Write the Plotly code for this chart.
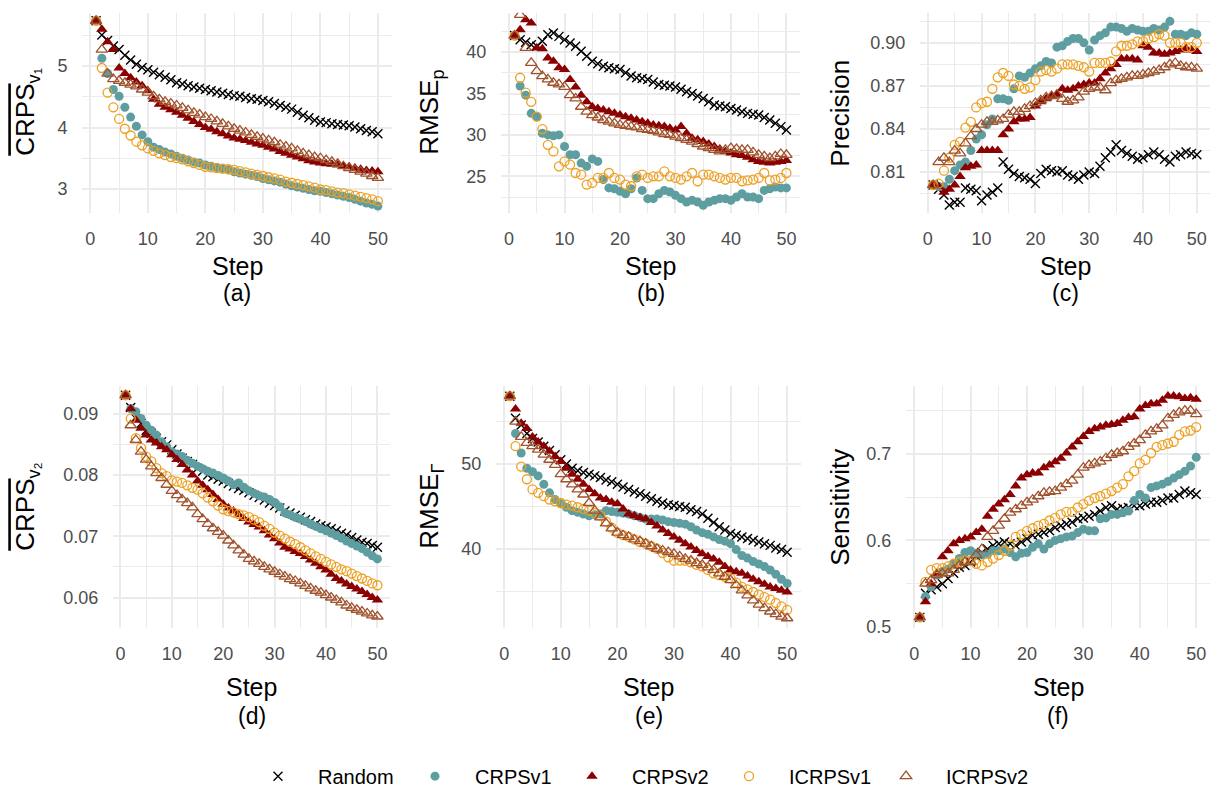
import plotly.graph_objects as go

steps = list(range(1, 51))
series_names = ["Random", "CRPSv1", "CRPSv2", "ICRPSv1", "ICRPSv2"]

# ---------------- panel (a): mean CRPS_v1 ----------------
a_random = [5.74, 5.51, 5.42, 5.33, 5.27, 5.18, 5.10, 5.03, 4.98, 4.94, 4.90, 4.86, 4.82, 4.78, 4.73, 4.71, 4.68, 4.66, 4.64, 4.62,
            4.60, 4.58, 4.56, 4.54, 4.52, 4.51, 4.49, 4.47, 4.46, 4.44, 4.42, 4.39, 4.36, 4.33, 4.30, 4.25, 4.20, 4.16, 4.12, 4.09,
            4.08, 4.06, 4.05, 4.04, 4.03, 4.01, 3.98, 3.95, 3.93, 3.90]
a_crpsv1 = [5.74, 5.13, 4.88, 4.62, 4.51, 4.33, 4.17, 4.02, 3.88, 3.77, 3.68, 3.64, 3.60, 3.57, 3.53, 3.50, 3.47, 3.44, 3.42, 3.39,
            3.37, 3.35, 3.33, 3.31, 3.28, 3.26, 3.24, 3.22, 3.20, 3.17, 3.15, 3.13, 3.11, 3.08, 3.05, 3.03, 3.01, 2.99, 2.97, 2.96,
            2.94, 2.92, 2.90, 2.88, 2.86, 2.83, 2.80, 2.77, 2.75, 2.72]
a_crpsv2 = [5.74, 5.60, 5.40, 5.27, 4.97, 4.88, 4.81, 4.74, 4.68, 4.60, 4.46, 4.38, 4.33, 4.29, 4.25, 4.20, 4.15, 4.10, 4.05, 4.00,
            3.97, 3.93, 3.90, 3.86, 3.83, 3.81, 3.79, 3.76, 3.73, 3.71, 3.68, 3.65, 3.61, 3.58, 3.55, 3.52, 3.49, 3.46, 3.44, 3.42,
            3.41, 3.40, 3.39, 3.37, 3.36, 3.34, 3.32, 3.30, 3.29, 3.28]
a_icrpsv1 = [5.74, 4.97, 4.57, 4.33, 4.14, 3.98, 3.87, 3.77, 3.71, 3.66, 3.62, 3.58, 3.55, 3.52, 3.50, 3.48, 3.45, 3.42, 3.39, 3.36,
             3.35, 3.34, 3.33, 3.32, 3.31, 3.29, 3.27, 3.25, 3.23, 3.21, 3.19, 3.17, 3.15, 3.12, 3.10, 3.08, 3.06, 3.04, 3.02, 2.99,
             2.98, 2.96, 2.94, 2.93, 2.91, 2.89, 2.87, 2.85, 2.83, 2.80]
a_icrpsv2 = [5.74, 5.27, 4.88, 4.79, 4.76, 4.73, 4.70, 4.67, 4.62, 4.57, 4.51, 4.46, 4.42, 4.39, 4.36, 4.32, 4.28, 4.24, 4.21, 4.17,
             4.14, 4.10, 4.06, 4.02, 3.98, 3.95, 3.92, 3.88, 3.85, 3.82, 3.79, 3.76, 3.72, 3.69, 3.66, 3.62, 3.58, 3.55, 3.52, 3.50,
             3.47, 3.44, 3.41, 3.37, 3.34, 3.31, 3.28, 3.25, 3.21, 3.18]

# ---------------- panel (b): RMSE_p ----------------
b_random = [42.0, 41.5, 41.2, 40.9, 40.7, 41.3, 42.1, 42.3, 41.9, 41.5, 41.1, 40.7, 40.1, 39.5, 38.9, 38.6, 38.3, 38.1, 38.0, 37.9,
            37.5, 37.1, 36.9, 36.8, 36.7, 36.4, 36.1, 36.0, 35.9, 35.8, 35.5, 35.2, 35.0, 34.7, 34.4, 34.0, 33.6, 33.5, 33.4, 33.2,
            33.0, 32.8, 32.6, 32.5, 32.4, 32.1, 31.8, 31.4, 31.0, 30.6]
b_crpsv1 = [42.0, 35.9, 34.8, 32.6, 32.2, 30.2, 30.0, 29.9, 30.0, 28.6, 27.6, 27.6, 26.6, 26.2, 27.1, 26.8, 24.6, 23.6, 23.5, 23.2,
            22.9, 23.5, 24.8, 23.3, 22.3, 22.3, 22.9, 23.3, 23.1, 22.7, 22.3, 21.9, 22.1, 21.9, 21.5, 21.9, 22.1, 22.3, 22.3, 22.1,
            22.5, 22.9, 22.5, 22.5, 22.3, 23.3, 23.5, 23.7, 23.6, 23.6]
b_crpsv2 = [42.0, 42.7, 43.9, 43.5, 40.5, 40.4, 39.3, 38.9, 38.1, 37.9, 36.7, 35.8, 34.8, 34.0, 33.4, 33.2, 33.0, 32.8, 32.6, 32.4,
            32.2, 32.0, 31.8, 31.6, 31.4, 31.2, 31.1, 31.0, 30.8, 30.6, 31.0, 30.2, 29.6, 29.4, 29.2, 28.9, 28.6, 28.3, 28.0, 27.8,
            27.6, 27.5, 27.3, 27.0, 26.8, 26.7, 26.6, 26.7, 26.8, 26.9]
b_icrpsv1 = [42.0, 36.9, 35.1, 34.0, 32.2, 30.7, 28.8, 28.0, 26.2, 26.8, 26.4, 25.4, 25.2, 24.0, 24.2, 24.8, 24.8, 25.4, 24.8, 24.6,
             24.0, 23.8, 25.0, 25.2, 24.8, 25.0, 25.0, 25.6, 25.0, 24.8, 24.6, 25.0, 25.4, 24.4, 25.2, 25.2, 25.0, 24.8, 24.6, 24.8,
             24.8, 24.4, 24.5, 24.6, 24.8, 25.4, 24.5, 24.6, 24.8, 25.4]
b_icrpsv2 = [42.0, 44.5, 40.5, 38.7, 37.7, 37.1, 36.7, 36.3, 36.1, 35.8, 34.8, 34.4, 33.4, 32.8, 32.4, 32.1, 31.8, 31.6, 31.4, 31.2,
             31.1, 31.0, 30.9, 30.7, 30.6, 30.5, 30.3, 30.1, 30.0, 29.8, 29.6, 29.4, 29.2, 28.9, 28.6, 28.4, 28.2, 28.0, 28.2, 28.4,
             28.3, 28.2, 28.2, 27.9, 27.6, 27.4, 27.2, 27.4, 27.7, 27.6]

# ---------------- panel (c): Precision ----------------
c_random = [0.801, 0.798, 0.794, 0.787, 0.789, 0.789, 0.799, 0.798, 0.797, 0.790, 0.794, 0.796, 0.799, 0.817, 0.812, 0.809, 0.807,
            0.806, 0.805, 0.802, 0.809, 0.812, 0.811, 0.810, 0.811, 0.808, 0.807, 0.805, 0.808, 0.810, 0.809, 0.814, 0.820, 0.824,
            0.829, 0.825, 0.823, 0.821, 0.819, 0.820, 0.822, 0.824, 0.822, 0.819, 0.817, 0.821, 0.822, 0.824, 0.823, 0.822]
c_crpsv1 = [0.801, 0.800, 0.800, 0.805, 0.811, 0.815, 0.817, 0.825, 0.833, 0.836, 0.843, 0.847, 0.861, 0.861, 0.860, 0.868, 0.877,
            0.876, 0.879, 0.882, 0.884, 0.887, 0.886, 0.897, 0.898, 0.901, 0.903, 0.903, 0.900, 0.895, 0.902, 0.905, 0.907, 0.911,
            0.911, 0.910, 0.908, 0.910, 0.909, 0.908, 0.908, 0.910, 0.909, 0.911, 0.915, 0.906, 0.906, 0.905, 0.907, 0.906]
c_crpsv2 = [0.801, 0.800, 0.796, 0.798, 0.801, 0.807, 0.813, 0.814, 0.815, 0.825, 0.825, 0.825, 0.825, 0.836, 0.840, 0.845, 0.847,
            0.847, 0.848, 0.856, 0.859, 0.861, 0.863, 0.864, 0.868, 0.867, 0.868, 0.870, 0.871, 0.872, 0.872, 0.875, 0.879, 0.882,
            0.885, 0.889, 0.889, 0.889, 0.888, 0.898, 0.897, 0.893, 0.893, 0.892, 0.893, 0.894, 0.895, 0.896, 0.895, 0.894]
c_icrpsv1 = [0.801, 0.802, 0.811, 0.820, 0.829, 0.831, 0.841, 0.845, 0.855, 0.858, 0.859, 0.868, 0.876, 0.879, 0.877, 0.871, 0.870,
             0.868, 0.869, 0.874, 0.880, 0.881, 0.880, 0.882, 0.885, 0.885, 0.885, 0.884, 0.883, 0.880, 0.886, 0.886, 0.886, 0.887,
             0.894, 0.898, 0.898, 0.899, 0.901, 0.901, 0.903, 0.904, 0.906, 0.905, 0.900, 0.900, 0.900, 0.897, 0.897, 0.900]
c_icrpsv2 = [0.801, 0.817, 0.820, 0.817, 0.825, 0.823, 0.830, 0.835, 0.840, 0.843, 0.845, 0.845, 0.846, 0.847, 0.850, 0.852, 0.852,
             0.854, 0.856, 0.858, 0.860, 0.862, 0.863, 0.864, 0.861, 0.859, 0.860, 0.862, 0.866, 0.868, 0.869, 0.869, 0.867, 0.872,
             0.874, 0.875, 0.876, 0.877, 0.877, 0.878, 0.879, 0.880, 0.881, 0.883, 0.885, 0.886, 0.884, 0.883, 0.883, 0.882]

# ---------------- panel (d): mean CRPS_v2 ----------------
d_random = [0.0930, 0.0910, 0.0892, 0.0884, 0.0873, 0.0868, 0.0860, 0.0854, 0.0849, 0.0841, 0.0834, 0.0827, 0.0822, 0.0817, 0.0811,
            0.0806, 0.0800, 0.0797, 0.0793, 0.0790, 0.0786, 0.0782, 0.0778, 0.0775, 0.0771, 0.0767, 0.0763, 0.0759, 0.0754, 0.0750,
            0.0746, 0.0741, 0.0738, 0.0734, 0.0731, 0.0727, 0.0724, 0.0720, 0.0717, 0.0715, 0.0712, 0.0709, 0.0705, 0.0702, 0.0698,
            0.0694, 0.0690, 0.0688, 0.0685, 0.0682]
d_crpsv1 = [0.0930, 0.0908, 0.0903, 0.0892, 0.0881, 0.0873, 0.0865, 0.0854, 0.0846, 0.0838, 0.0834, 0.0830, 0.0824, 0.0819, 0.0814,
            0.0810, 0.0806, 0.0803, 0.0799, 0.0795, 0.0790, 0.0784, 0.0787, 0.0780, 0.0774, 0.0770, 0.0766, 0.0764, 0.0760, 0.0755,
            0.0748, 0.0738, 0.0735, 0.0731, 0.0728, 0.0724, 0.0720, 0.0716, 0.0712, 0.0709, 0.0705, 0.0701, 0.0697, 0.0692, 0.0688,
            0.0684, 0.0680, 0.0674, 0.0668, 0.0663]
d_crpsv2 = [0.0930, 0.0908, 0.0889, 0.0876, 0.0865, 0.0857, 0.0852, 0.0846, 0.0841, 0.0833, 0.0825, 0.0817, 0.0808, 0.0800, 0.0790,
            0.0783, 0.0776, 0.0768, 0.0760, 0.0752, 0.0746, 0.0741, 0.0735, 0.0729, 0.0723, 0.0719, 0.0715, 0.0709, 0.0702, 0.0696,
            0.0689, 0.0682, 0.0679, 0.0675, 0.0672, 0.0667, 0.0661, 0.0656, 0.0650, 0.0645, 0.0638, 0.0631, 0.0627, 0.0622, 0.0618,
            0.0614, 0.0610, 0.0605, 0.0600, 0.0596]
d_icrpsv1 = [0.0930, 0.0892, 0.0860, 0.0844, 0.0830, 0.0822, 0.0811, 0.0803, 0.0798, 0.0791, 0.0789, 0.0787, 0.0783, 0.0779, 0.0776,
             0.0770, 0.0763, 0.0757, 0.0750, 0.0744, 0.0741, 0.0739, 0.0736, 0.0734, 0.0731, 0.0727, 0.0723, 0.0717, 0.0712, 0.0706,
             0.0701, 0.0696, 0.0691, 0.0687, 0.0682, 0.0677, 0.0672, 0.0667, 0.0663, 0.0658, 0.0654, 0.0650, 0.0646, 0.0643, 0.0639,
             0.0635, 0.0631, 0.0627, 0.0623, 0.0620]
d_icrpsv2 = [0.0930, 0.0881, 0.0857, 0.0838, 0.0825, 0.0814, 0.0803, 0.0795, 0.0784, 0.0774, 0.0767, 0.0760, 0.0754, 0.0747, 0.0736,
             0.0728, 0.0720, 0.0713, 0.0707, 0.0701, 0.0693, 0.0685, 0.0677, 0.0670, 0.0663, 0.0659, 0.0655, 0.0650, 0.0646, 0.0642,
             0.0638, 0.0634, 0.0630, 0.0627, 0.0623, 0.0619, 0.0615, 0.0611, 0.0608, 0.0604, 0.0600, 0.0596, 0.0592, 0.0587, 0.0583,
             0.0580, 0.0577, 0.0574, 0.0571, 0.0569]

# ---------------- panel (e): RMSE_Gamma ----------------
e_random = [58.0, 55.4, 54.6, 53.6, 53.0, 52.6, 52.1, 51.6, 51.1, 50.5, 50.0, 49.5, 49.2, 49.0, 48.8, 48.6, 48.4, 48.1, 47.9, 47.6,
            47.3, 47.0, 46.7, 46.5, 46.2, 45.9, 45.6, 45.4, 45.2, 45.1, 45.0, 44.9, 44.6, 44.4, 44.1, 43.6, 43.1, 42.6, 42.2, 41.8,
            41.6, 41.4, 41.2, 41.0, 40.8, 40.6, 40.4, 40.1, 39.9, 39.6]
e_crpsv1 = [58.0, 53.6, 51.3, 49.5, 49.1, 48.6, 47.6, 46.6, 45.8, 45.3, 44.9, 44.5, 44.3, 44.1, 43.9, 44.0, 44.1, 44.5, 44.4, 44.3,
            44.2, 44.1, 43.9, 43.7, 43.5, 43.5, 43.5, 43.4, 43.2, 43.1, 43.0, 42.9, 42.6, 42.2, 41.9, 41.7, 41.4, 41.1, 40.9, 40.6,
            39.9, 39.2, 38.9, 38.5, 38.2, 37.9, 37.5, 37.0, 36.4, 35.9]
e_crpsv2 = [58.0, 56.5, 54.8, 54.2, 53.2, 52.6, 52.1, 51.5, 50.9, 50.3, 49.5, 48.8, 48.2, 47.6, 47.0, 46.5, 46.0, 45.8, 45.5, 45.3,
            44.7, 44.1, 43.9, 43.7, 43.5, 43.1, 42.7, 42.2, 41.8, 41.4, 41.0, 40.6, 40.2, 39.8, 39.4, 39.1, 38.8, 38.4, 37.9, 37.5,
            37.3, 37.1, 36.8, 36.4, 36.1, 35.8, 35.5, 35.3, 35.1, 34.9]
e_icrpsv1 = [58.0, 52.1, 49.7, 48.2, 47.0, 46.6, 46.2, 45.8, 45.6, 45.4, 45.2, 45.1, 44.9, 44.7, 44.5, 44.2, 43.9, 43.2, 42.5, 41.9,
             41.6, 41.4, 41.1, 40.8, 40.6, 40.3, 40.0, 39.5, 39.0, 38.6, 38.6, 38.6, 38.4, 38.1, 37.9, 37.5, 37.1, 36.9, 36.7, 36.5,
             36.0, 35.5, 35.2, 34.9, 34.6, 34.3, 34.0, 33.6, 33.2, 32.8]
e_icrpsv2 = [58.0, 55.0, 53.2, 52.5, 52.1, 51.7, 51.1, 50.5, 49.9, 48.8, 48.2, 47.6, 47.0, 46.4, 45.4, 44.5, 43.7, 43.0, 42.4, 41.9,
             41.6, 41.4, 41.1, 40.9, 40.6, 40.3, 40.0, 39.8, 39.6, 39.4, 39.1, 38.8, 38.6, 38.3, 38.1, 37.8, 37.5, 37.1, 36.7, 36.3,
             35.7, 35.1, 34.5, 33.9, 33.4, 33.0, 32.6, 32.3, 32.0, 31.8]

# ---------------- panel (f): Sensitivity ----------------
f_random = [0.511, 0.539, 0.543, 0.546, 0.550, 0.556, 0.562, 0.569, 0.571, 0.575, 0.581, 0.586, 0.590, 0.594, 0.596, 0.598, 0.596,
            0.594, 0.598, 0.602, 0.606, 0.607, 0.609, 0.611, 0.615, 0.617, 0.619, 0.621, 0.625, 0.626, 0.628, 0.630, 0.634, 0.638,
            0.640, 0.636, 0.637, 0.638, 0.640, 0.640, 0.642, 0.644, 0.644, 0.646, 0.649, 0.649, 0.653, 0.657, 0.655, 0.653]
f_crpsv1 = [0.511, 0.535, 0.546, 0.560, 0.564, 0.567, 0.573, 0.579, 0.586, 0.588, 0.585, 0.583, 0.584, 0.588, 0.588, 0.590, 0.586,
            0.581, 0.585, 0.586, 0.592, 0.596, 0.590, 0.596, 0.600, 0.602, 0.604, 0.605, 0.609, 0.613, 0.611, 0.611, 0.625, 0.626,
            0.630, 0.630, 0.632, 0.634, 0.646, 0.653, 0.649, 0.661, 0.663, 0.665, 0.668, 0.672, 0.676, 0.680, 0.686, 0.696]
f_crpsv2 = [0.511, 0.529, 0.550, 0.562, 0.581, 0.588, 0.596, 0.600, 0.602, 0.604, 0.609, 0.613, 0.628, 0.636, 0.642, 0.647, 0.653,
            0.663, 0.672, 0.676, 0.678, 0.678, 0.684, 0.687, 0.691, 0.695, 0.701, 0.708, 0.714, 0.720, 0.726, 0.729, 0.731, 0.733,
            0.734, 0.735, 0.739, 0.742, 0.743, 0.752, 0.756, 0.758, 0.758, 0.762, 0.767, 0.767, 0.766, 0.764, 0.765, 0.763]
f_icrpsv1 = [0.511, 0.552, 0.566, 0.568, 0.568, 0.570, 0.573, 0.575, 0.577, 0.577, 0.573, 0.571, 0.575, 0.579, 0.583, 0.588, 0.594,
             0.604, 0.607, 0.611, 0.614, 0.617, 0.619, 0.623, 0.626, 0.630, 0.633, 0.633, 0.638, 0.642, 0.646, 0.649, 0.651, 0.654,
             0.657, 0.661, 0.665, 0.674, 0.680, 0.689, 0.693, 0.701, 0.708, 0.710, 0.712, 0.714, 0.722, 0.726, 0.727, 0.731]
f_icrpsv2 = [0.511, 0.550, 0.554, 0.560, 0.562, 0.562, 0.566, 0.571, 0.575, 0.575, 0.583, 0.590, 0.604, 0.611, 0.617, 0.625, 0.632,
             0.636, 0.640, 0.644, 0.647, 0.651, 0.655, 0.656, 0.657, 0.661, 0.665, 0.669, 0.676, 0.684, 0.687, 0.689, 0.691, 0.695,
             0.699, 0.701, 0.703, 0.708, 0.712, 0.716, 0.722, 0.726, 0.729, 0.733, 0.741, 0.745, 0.748, 0.750, 0.750, 0.746]

x_tick_vals = [0, 10, 20, 30, 40, 50]
panel_labels = ["(a)", "(b)", "(c)", "(d)", "(e)", "(f)"]
y_titles = [
    '<span style="text-decoration:overline">CRPS</span><sub>v\u2081</sub>',
    'RMSE<sub>p</sub>',
    'Precision',
    '<span style="text-decoration:overline">CRPS</span><sub>v\u2082</sub>',
    'RMSE<sub>\u0393</sub>',
    'Sensitivity',
]
y_tick_vals = [[3, 4, 5], [25, 30, 35, 40], [0.81, 0.84, 0.87, 0.90],
               [0.06, 0.07, 0.08, 0.09], [40, 50], [0.5, 0.6, 0.7]]
y_tick_text = [["3", "4", "5"], ["25", "30", "35", "40"], ["0.81", "0.84", "0.87", "0.90"],
               ["0.06", "0.07", "0.08", "0.09"], ["40", "50"], ["0.5", "0.6", "0.7"]]

panels = [
    [a_random, a_crpsv1, a_crpsv2, a_icrpsv1, a_icrpsv2],
    [b_random, b_crpsv1, b_crpsv2, b_icrpsv1, b_icrpsv2],
    [c_random, c_crpsv1, c_crpsv2, c_icrpsv1, c_icrpsv2],
    [d_random, d_crpsv1, d_crpsv2, d_icrpsv1, d_icrpsv2],
    [e_random, e_crpsv1, e_crpsv2, e_icrpsv1, e_icrpsv2],
    [f_random, f_crpsv1, f_crpsv2, f_icrpsv1, f_icrpsv2],
]

# ---------------- layout geometry (pixels) ----------------
W, H = 1212, 799
plot_px = [  # left, right, top, bottom
    (82, 392, 13, 215), (501, 800, 13, 215), (920, 1210, 13, 215),
    (113, 390, 390, 635), (496, 801, 390, 635), (906, 1210, 390, 635),
]
y_ranges = [(2.614, 5.869), (20.62, 44.74), (0.7818, 0.9209),
            (0.05505, 0.09457), (30.67, 59.25), (0.4989, 0.7789)]
y_minor = [[3.5, 4.5, 5.5], [22.5, 27.5, 32.5, 37.5, 42.5], [0.795, 0.825, 0.855, 0.885, 0.915],
           [0.055, 0.065, 0.075, 0.085], [35, 45, 55], [0.55, 0.65, 0.75]]
ytitle_x = [27, 431, 840, 27, 431, 840]

styles = [
    dict(symbol="x-thin", size=9, color="black", line=dict(color="black", width=1.4)),
    dict(symbol="circle", size=9, color="#5F9EA0", line=dict(width=0)),
    dict(symbol="triangle-up", size=10, color="#8B0000", line=dict(width=0)),
    dict(symbol="circle-open", size=9, color="#EEA020", line=dict(color="#EEA020", width=1.3)),
    dict(symbol="triangle-up-open", size=10, color="#A0522D", line=dict(color="#A0522D", width=1.3)),
]
legend_widths = [72, 72, 72, 72, 95]

FONT = "Liberation Sans, Arial, sans-serif"
fig = go.Figure()
annotations = []
grid_major = "#EBEBEB"

for p in range(6):
    xa = "x" if p == 0 else f"x{p+1}"
    ya = "y" if p == 0 else f"y{p+1}"
    for s in range(5):
        fig.add_trace(go.Scatter(
            x=steps, y=panels[p][s], mode="markers", name=series_names[s],
            legendgroup=series_names[s], showlegend=(p == 0),
            legendwidth=legend_widths[s],
            marker=styles[s], xaxis=xa, yaxis=ya,
        ))
    l, r, t, b = plot_px[p]
    xkey = "xaxis" if p == 0 else f"xaxis{p+1}"
    ykey = "yaxis" if p == 0 else f"yaxis{p+1}"
    fig.layout[xkey] = dict(
        domain=[l / W, r / W], range=[-1.45, 52.45], anchor=ya,
        tickvals=x_tick_vals, ticks="outside", ticklen=10, tickcolor="rgba(0,0,0,0)",
        showgrid=True, gridcolor=grid_major, gridwidth=2, zeroline=False, showline=False,
        tickfont=dict(family=FONT, size=18, color="#4D4D4D"),
        minor=dict(tickvals=[5, 15, 25, 35, 45], showgrid=True, gridcolor=grid_major, gridwidth=1, ticks=""),
    )
    fig.layout[ykey] = dict(
        domain=[1 - b / H, 1 - t / H], range=list(y_ranges[p]), anchor=xa,
        tickvals=y_tick_vals[p], ticktext=y_tick_text[p], ticks="outside", ticklen=10,
        tickcolor="rgba(0,0,0,0)",
        showgrid=True, gridcolor=grid_major, gridwidth=2, zeroline=False, showline=False,
        tickfont=dict(family=FONT, size=18, color="#4D4D4D"),
        minor=dict(tickvals=y_minor[p], showgrid=True, gridcolor=grid_major, gridwidth=1, ticks=""),
    )
    cx = (l + r) / 2
    step_y = 269 if p < 3 else 695
    lab_y = 296 if p < 3 else 724
    annotations.append(dict(text="Step", x=cx / W, y=1 - step_y / H, xref="paper", yref="paper",
                            showarrow=False, xanchor="center", yanchor="middle",
                            font=dict(family=FONT, size=25, color="black")))
    annotations.append(dict(text=panel_labels[p], x=cx / W, y=1 - lab_y / H, xref="paper", yref="paper",
                            showarrow=False, xanchor="center", yanchor="middle",
                            font=dict(family=FONT, size=23, color="black")))
    annotations.append(dict(text=y_titles[p], x=ytitle_x[p] / W, y=1 - ((t + b) / 2) / H,
                            xref="paper", yref="paper", showarrow=False, textangle=-90,
                            xanchor="center", yanchor="middle",
                            font=dict(family=FONT, size=26, color="black")))

fig.update_layout(
    width=W, height=H, margin=dict(l=0, r=0, t=0, b=0),
    paper_bgcolor="white", plot_bgcolor="white",
    annotations=annotations,
    legend=dict(orientation="h", x=238 / W, xanchor="left", y=1 - 785 / H, yanchor="middle",
                font=dict(family=FONT, size=20, color="black"), itemwidth=70,
                entrywidth=72, entrywidthmode="pixels", bgcolor="rgba(0,0,0,0)"),
)

fig.write_html("out.html", config={"displayModeBar": False},
               post_script="document.body.style.margin='0';")
